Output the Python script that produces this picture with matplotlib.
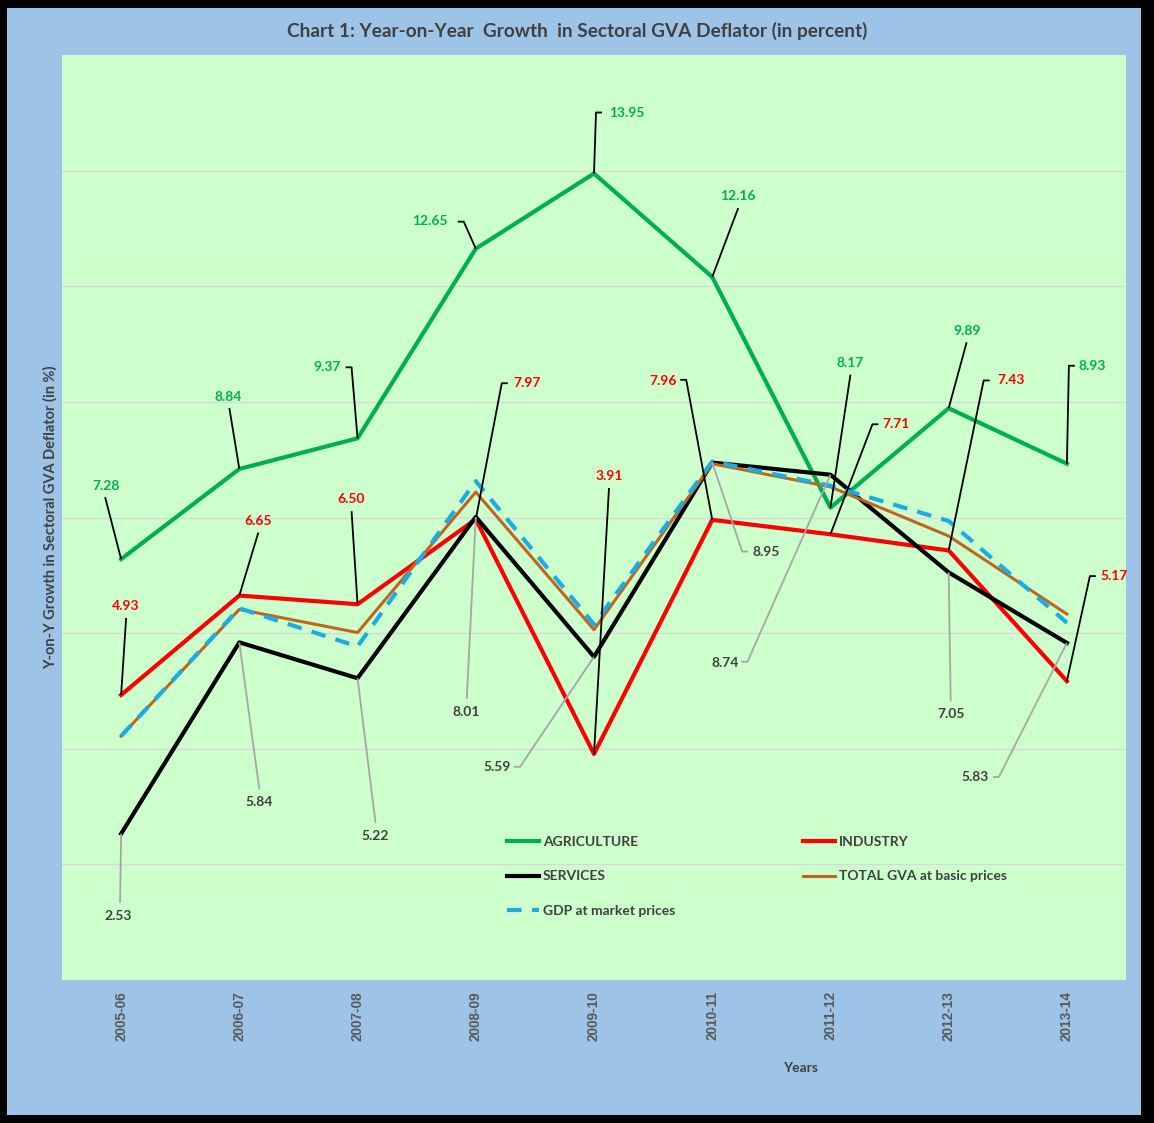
import matplotlib
matplotlib.use("Agg")
import matplotlib.pyplot as plt
from matplotlib.patches import Rectangle

# ---------------- data ----------------
years = ["2005-06", "2006-07", "2007-08", "2008-09", "2009-10",
         "2010-11", "2011-12", "2012-13", "2013-14"]
agriculture = [7.28, 8.84, 9.37, 12.65, 13.95, 12.16, 8.17, 9.89, 8.93]
industry = [4.93, 6.65, 6.50, 7.97, 3.91, 7.96, 7.71, 7.43, 5.17]
services = [2.53, 5.84, 5.22, 8.01, 5.59, 8.95, 8.74, 7.05, 5.83]
total_gva = [4.22, 6.41, 6.01, 8.44, 6.06, 8.93, 8.53, 7.68, 6.33]
gdp = [4.22, 6.43, 5.77, 8.63, 6.15, 8.97, 8.55, 7.94, 6.18]

title = "Chart 1: Year-on-Year  Growth  in Sectoral GVA Deflator (in percent)"
ylabel = "Y-on-Y Growth in Sectoral GVA Deflator (in %)"
xlabel = "Years"

# label placement (pixel offsets from the point: text dx, dy; leader end dx, dy; stub)
agri_lbl = [(-15, 73, -16, 62, 0), (-11, 72, -10, 61, 0), (-30, 71, -6, 71, -6),
            (-46, 28, -12, 27, -6), (33, 61, 2, 61, 6), (26, 81, 26, 69, 0),
            (20, 145, 20, 133, 0), (18, 77, 18, 66, 0), (25, 98, 2, 98, 6)]
ind_lbl = [(5, 89, 5, 77, 0), (19, 75, 19, 63, 0), (-6, 105, -6, 93, 0),
           (51, 136, 26, 136, 6), (15, 278, 15, 266, 0), (-49, 139, -26, 140, -6),
           (66, 110, 42, 110, 6), (62, 170, 35, 170, 6), (47, 105, 23, 105, 6)]
serv_lbl = [(-3, -82, -1, -69, 0), (20, -160, 20, -147, 0), (18, -158, 18, -145, 0),
            (-10, -195, -9, -182, 0), (-97, -110, -74, -110, -6), (54, -89, 30, -89, 6),
            (-105, -188, -83, -187, -6), (2, -142, 2, -129, 0), (-92, -134, -68, -134, -6)]

W, H = 1154, 1123
fig = plt.figure(figsize=(W / 100, H / 100), dpi=100, facecolor="black")
fig.patches.append(Rectangle((7 / W, 8 / H), (1141 - 7) / W, (1115 - 8) / H,
                             transform=fig.transFigure, facecolor="#9DC3E6",
                             edgecolor="none", zorder=-10))

ax = fig.add_axes([62 / W, 1 - 980 / H, (1126 - 62) / W, (980 - 55) / H])
ax.set_zorder(1)
ax.set_facecolor("#CCFFCC")
for s in ax.spines.values():
    s.set_visible(False)
ax.set_xlim(-0.5, 8.5)
ax.set_ylim(0, 16)
ax.set_yticks([2, 4, 6, 8, 10, 12, 14])
ax.set_yticklabels([])
ax.tick_params(axis="y", length=0)
ax.grid(axis="y", color="#D9D9D9", lw=1)
ax.set_axisbelow(True)
x = list(range(len(years)))
ax.set_xticks(x)
ax.set_xticklabels(years, rotation=90, fontsize=9.8, fontweight="bold",
                   color="#595959", family="Liberation Sans")
ax.tick_params(axis="x", length=0, pad=8)

GREEN, RED, BROWN, BLUE = "#00B050", "#FF0000", "#C0651E", "#1CACE3"
l1, = ax.plot(x, agriculture, color=GREEN, lw=3.0, label="AGRICULTURE", zorder=3)
l2, = ax.plot(x, industry, color=RED, lw=3.0, label="INDUSTRY", zorder=3)
l3, = ax.plot(x, services, color="black", lw=3.0, label="SERVICES", zorder=3)
l4, = ax.plot(x, total_gva, color=BROWN, lw=2.2, label="TOTAL GVA at basic prices", zorder=3)
l5, = ax.plot(x, gdp, color=BLUE, lw=3.0, ls=(0, (3.5, 2.5)), label="GDP at market prices", zorder=3)

fig.canvas.draw()
toD = ax.transData
inv = ax.transData.inverted()


def add_labels(vals, specs, tcolor, lcolor):
    for i, (v, sp) in enumerate(zip(vals, specs)):
        tdx, tdy, edx, edy, stub = sp
        px, py = toD.transform((i, v))
        pts = [(px, py), (px + edx, py + edy)]
        if stub:
            pts.append((px + edx + stub, py + edy))
        dpts = inv.transform(pts)
        ax.plot(dpts[:, 0], dpts[:, 1], color=lcolor, lw=1.3, zorder=4,
                solid_capstyle="butt")
        tx, ty = inv.transform((px + tdx, py + tdy))
        ax.text(tx, ty, f"{v:.2f}", color=tcolor, fontsize=10, fontweight="bold",
                family="Lato", ha="center", va="center", zorder=5)


add_labels(agriculture, agri_lbl, GREEN, "black")
add_labels(industry, ind_lbl, RED, "black")
add_labels(services, serv_lbl, "#404040", "#A6A6A6")

leg = ax.legend(handles=[l1, l3, l5, l2, l4], ncol=2, frameon=False,
                loc="upper left", bbox_to_anchor=((500 - 62) / 1064, (980 - 829) / 925),
                borderpad=0, handlelength=2.3, handletextpad=0.3,
                columnspacing=9.2, labelspacing=1.62,
                prop={"family": "Lato", "weight": "bold", "size": 10})
for t in leg.get_texts():
    t.set_color("#404040")

fig.text(577 / W, 1 - 31 / H, title, ha="center", va="center", fontsize=13.7,
         fontweight="bold", family="Lato", color="#404040")
fig.text(50 / W, 1 - 517 / H, ylabel, ha="center", va="center", rotation=90,
         fontsize=10.5, fontweight="bold", family="Lato", color="#404040")
fig.text(801 / W, 1 - 1068 / H, xlabel, ha="center", va="center",
         fontsize=10, fontweight="bold", family="Lato", color="#404040")

fig.savefig("out.png", dpi=100, facecolor="black")
